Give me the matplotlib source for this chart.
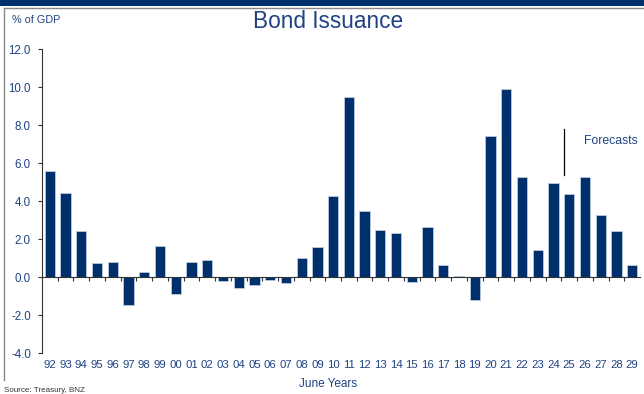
import matplotlib
matplotlib.use("Agg")
import matplotlib.pyplot as plt
import numpy as np
from matplotlib.lines import Line2D
from matplotlib.patches import Rectangle

years = ["92","93","94","95","96","97","98","99","00","01","02","03","04","05",
         "06","07","08","09","10","11","12","13","14","15","16","17","18","19",
         "20","21","22","23","24","25","26","27","28","29"]
values = [5.6, 4.4, 2.42, 0.75, 0.81, -1.47, 0.28, 1.65, -0.88, 0.81, 0.91, -0.23,
          -0.56, -0.40, -0.14, -0.30, 0.98, 1.60, 4.25, 9.45, 3.49, 2.49, 2.32,
          -0.28, 2.65, 0.61, 0.07, -1.19, 7.42, 9.88, 5.26, 1.40, 4.95, 4.39,
          5.25, 3.28, 2.44, 0.65]
yticks = [-4.0, -2.0, 0.0, 2.0, 4.0, 6.0, 8.0, 10.0, 12.0]

plt.rcParams['font.family'] = ['Liberation Sans', 'DejaVu Sans']
TXT = '#1F4282'
BAR = '#00306C'

fig = plt.figure(figsize=(6.44, 3.94), dpi=100)
# top band and frame
fig.add_artist(Rectangle((0, 1 - 6/394), 1, 6/394, transform=fig.transFigure,
                         color='#00306C', lw=0))
fig.add_artist(Line2D([4/644, 1], [1 - 8/394, 1 - 8/394], transform=fig.transFigure,
                      color='#888888', lw=1.0))
fig.add_artist(Line2D([4/644, 4/644], [1 - 8/394, 1 - 380/394], transform=fig.transFigure,
                      color='#888888', lw=1.0))

ax = fig.add_axes([42/644, 1 - 353/394, 598/644, 304/394])
x = np.arange(len(years))
ax.bar(x, values, width=0.65, color=BAR, edgecolor='#c5d3e6', linewidth=0.5)
ax.set_xlim(-0.5, len(years) - 0.5)
ax.set_ylim(-4, 12)

for s in ['top', 'right']:
    ax.spines[s].set_visible(False)
ax.spines['bottom'].set_position(('data', 0))
ax.spines['bottom'].set_color('#333333')
ax.spines['left'].set_color('#333333')
ax.spines['bottom'].set_linewidth(0.8)
ax.spines['left'].set_linewidth(0.8)

ax.set_yticks(yticks)
ax.set_yticklabels([f"{v:.1f}" for v in yticks], color=TXT, fontsize=8.3)
ax.tick_params(axis='y', direction='out', length=3, width=0.8, pad=5, color='#333333')

ax.set_xticks(x[:-1] + 0.5)
ax.set_xticklabels([])
ax.tick_params(axis='x', which='major', direction='out', length=3, width=0.8, color='#333333')
ax.set_xticks(x, minor=True)
ax.set_xticklabels(years, minor=True, color=TXT, fontsize=8.2)
ax.tick_params(axis='x', which='minor', length=0, pad=60)

# forecast marker
ax.plot([32.65, 32.65], [5.37, 7.8], color='black', lw=0.9)
ax.text(33.95, 7.16, "Forecasts", color=TXT, fontsize=8.8, va='center', ha='left')

fig.text(328/644, 1 - 22/394, "Bond Issuance", color=TXT, fontsize=16.3, ha='center', va='center')
fig.text(12/644, 1 - 20/394, "% of GDP", color=TXT, fontsize=7.8, ha='left', va='center')
fig.text(328/644, 1 - 384/394, "June Years", color=TXT, fontsize=8.5, ha='center', va='center')
fig.text(4/644, 1 - 390/394, "Source: Treasury, BNZ", color='#333333', fontsize=5.8, ha='left', va='center')

fig.savefig("out.png", dpi=100)
